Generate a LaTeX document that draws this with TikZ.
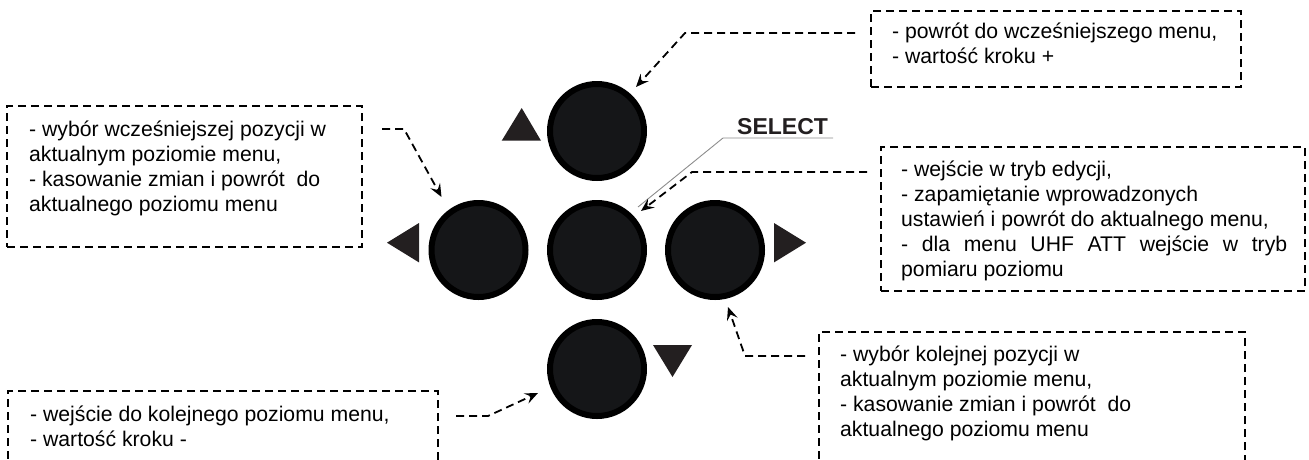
\documentclass[tikz,border=0pt]{standalone}
\usepackage{fontspec}
\setmainfont{Liberation Sans}
\usetikzlibrary{arrows.meta,calc}
\definecolor{tri}{HTML}{231F20}
\definecolor{btn}{HTML}{151618}
\begin{document}
\begin{tikzpicture}[x=1pt,y=-1pt,
  btnc/.style={circle,draw=black,line width=6pt,fill=btn,minimum size=94pt,inner sep=0pt},
  dbox/.style={draw,dash pattern=on 8pt off 5pt,line width=1.8pt,inner sep=0pt,outer sep=0pt,anchor=north west},
  conn/.style={dash pattern=on 8pt off 5pt,line width=1.8pt,-{Stealth[length=13pt,width=11pt,inset=5pt]}},
  txt/.style={inner sep=0pt,anchor=base west,font=\fontsize{21.2}{25}\selectfont},
  trimark/.style={fill=tri}
]
\useasboundingbox (0,0) rectangle (1309,459);
\clip (0,0) rectangle (1309,459);

% buttons
\node[btnc] (cT) at (597,131) {};
\node[btnc] (cL) at (478.5,250) {};
\node[btnc] (cM) at (597,250) {};
\node[btnc] (cR) at (715,250) {};
\node[btnc] (cB) at (597,369) {};

% direction marks
\fill[trimark] (501.7,140.7) -- (521.7,108) -- (541,140.7) -- cycle;
\fill[trimark] (419,223) -- (387,242.7) -- (419,262.4) -- cycle;
\fill[trimark] (774,223) -- (806,242.7) -- (774,262.4) -- cycle;
\fill[trimark] (653,345) -- (692,345) -- (672.5,377) -- cycle;

% boxes
\node[dbox,minimum width=370pt,minimum height=76pt] (trbox) at (871,11) {};
\node[dbox,minimum width=355pt,minimum height=141pt] (lbox) at (7,106) {};
\node[dbox,minimum width=424pt,minimum height=144pt] (rbox) at (881,147) {};
\node[dbox,minimum width=426pt,minimum height=160pt] (brbox) at (819,332) {};
\node[dbox,minimum width=430pt,minimum height=120pt] (blbox) at (8,391) {};

% texts
\node[txt] (trtext) at (892,38) {\parbox[t]{340pt}{- powrót do wcześniejszego menu,\\- wartość kroku +}};
\node[txt] (ltext) at (29,136) {\parbox[t]{330pt}{- wybór wcześniejszej pozycji w\\aktualnym poziomie menu,\\- kasowanie zmian i powrót~ do\\aktualnego poziomu menu}};
\node[txt] (rtext) at (901,176) {\parbox[t]{386pt}{- wejście w tryb edycji,\\- zapamiętanie wprowadzonych\\ustawień i powrót do aktualnego menu,\\\makebox[\linewidth][s]{- dla menu UHF ATT wejście w tryb}\\pomiaru poziomu}};
\node[txt] (brtext) at (840,361) {\parbox[t]{400pt}{- wybór kolejnej pozycji w\\aktualnym poziomie menu,\\- kasowanie zmian i powrót~ do\\aktualnego poziomu menu}};
\node[txt] (bltext) at (30,421) {\parbox[t]{400pt}{- wejście do kolejnego poziomu menu,\\- wartość kroku -}};

% SELECT label
\node[inner sep=0pt,anchor=base west,text=tri,font=\fontsize{23}{23}\selectfont\bfseries] (sel) at (737,134) {SELECT};
\draw[black!45,line width=0.9pt] ($(sel.base east)+(5,4)$) -- ($(sel.base west)+(-14,4)$) -- ($(cM)+(41,-43)$);

% connectors
\draw[conn] ($(trbox.north west)+(-16,22)$) -- ($(trbox.north west)+(-186,22)$) -- ($(cT)+(39,-44)$);
\draw[conn] ($(lbox.north east)+(20,23)$) -- ($(lbox.north east)+(42,23)$) -- ($(cL)+(-37,-53)$);
\draw[conn] ($(rbox.north west)+(-14,25)$) -- ($(rbox.north west)+(-189,25)$) -- ($(cM)+(44,-39)$);
\draw[conn] ($(brbox.north west)+(-14,24)$) -- ($(brbox.north west)+(-74,24)$) -- ($(cR)+(13,57)$);
\draw[conn] ($(blbox.north east)+(18,25)$) -- ($(blbox.north east)+(50,25)$) -- ($(cB)+(-59,24)$);
\end{tikzpicture}
\end{document}
